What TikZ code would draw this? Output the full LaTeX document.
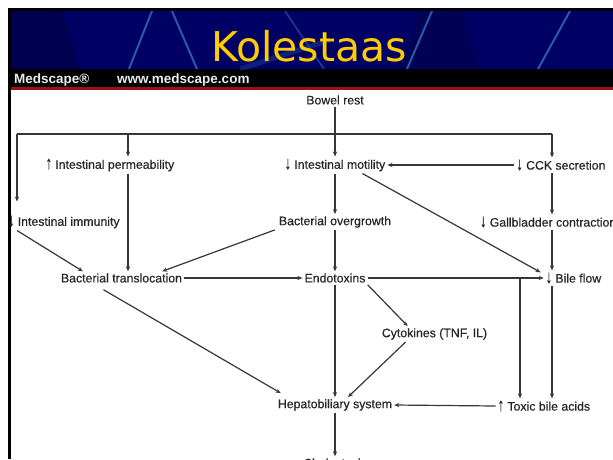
\documentclass[tikz,border=0pt]{standalone}
\usepackage{fontspec}
\usepackage{graphicx}
\setmainfont{Liberation Sans}
\newfontfamily\lblfont[FakeBold=0.4]{Liberation Sans}
\newfontfamily\titlefont{DejaVu Sans}
\usetikzlibrary{arrows.meta}
\newcommand\dnarr{\raisebox{-0.3pt}{\scalebox{1}[1.5]{↓}}}
\newcommand\uparr{\raisebox{-0.3pt}{\scalebox{1}[1.5]{↑}}}
\definecolor{navy}{RGB}{0,0,100}
\definecolor{streak}{RGB}{40,90,170}
\definecolor{titleyellow}{RGB}{255,204,0}
\definecolor{ink}{RGB}{38,38,38}
\definecolor{lineink}{RGB}{55,55,55}
\definecolor{barred}{RGB}{150,20,20}
\tikzset{
  lbl/.style={font=\lblfont\fontsize{12.3}{14}\selectfont, text=ink, inner sep=2pt},
  arr/.style={draw=lineink, line width=1.2pt, -{Stealth[length=5pt,width=4.2pt]}},
  ln/.style={draw=lineink, line width=1.2pt},
}
\begin{document}
\begin{tikzpicture}[x=1pt,y=-1pt]
\useasboundingbox (0,0) rectangle (613,459);
\clip (0,0) rectangle (613,459);
% frame and header
\fill[white] (0,0) rectangle (613,459);
\fill[black] (8,8) rectangle (613,459);
\fill[white] (11,90) rectangle (613,459);
\fill[navy] (11,11) rectangle (613,69);
\fill[navy!80!black] (11,11) -- (62,11) -- (80,69) -- (11,69) -- cycle;
\fill[navy!85!black] (420,11) -- (462,11) -- (478,69) -- (400,69) -- cycle;
\begin{scope}
\clip (11,11) rectangle (613,69);
\draw[streak, line width=2pt] (152,11) -- (129,69);
\draw[streak, line width=2pt] (172,11) -- (197,69);
\draw[streak!70!navy, line width=1.5pt] (285,11) -- (324,69);
\draw[streak, line width=2pt] (432,11) -- (407,69);
\draw[streak, line width=2pt] (570,11) -- (538,69);
\draw[streak!60!navy, line width=5pt, opacity=0.6] (240,69) -- (330,40);
\end{scope}
\node[font=\titlefont\fontsize{41}{44}\selectfont, text=titleyellow, anchor=base, inner sep=0] (title) at (309,61) {Kolestaas};
\fill[barred] (11,87) rectangle (613,90);
\node[font=\bfseries\fontsize{13.5}{15}\selectfont, text=white!92!black, anchor=base west, inner sep=0] (ms) at (14,83) {Medscape®};
\node[font=\bfseries\fontsize{13.5}{15}\selectfont, text=white!92!black, anchor=base west, inner sep=0] (url) at (117,83) {www.medscape.com};
% nodes
\node[lbl] (rest) at (335,100) {Bowel rest};
\node[lbl] (perm) at (110,165) {\uparr\ Intestinal permeability};
\node[lbl] (motil) at (335,165) {\dnarr\ Intestinal motility};
\node[lbl] (cck) at (561,165) {\dnarr\ CCK secretion};
\node[lbl, anchor=west] (immun) at (6,222) {\dnarr\ Intestinal immunity};
\node[lbl] (over) at (335,222) {Bacterial overgrowth};
\node[lbl, anchor=west] (gall) at (478,222) {\dnarr\ Gallbladder contraction};
\node[lbl] (trans) at (121.5,278) {Bacterial translocation};
\node[lbl] (endo) at (335,278) {Endotoxins};
\node[lbl] (bile) at (573.5,278) {\dnarr\ Bile flow};
\node[lbl] (cyto) at (434.5,334) {Cytokines (TNF, IL)};
\node[lbl] (hep) at (335,405) {Hepatobiliary system};
\node[lbl] (toxic) at (544,406) {\uparr\ Toxic bile acids};
\node[lbl] (chol) at (335,463) {Cholestasis};
% coordinates on the trunk
\coordinate (tl) at (17,134);
\coordinate (pd) at (128,134);
\coordinate (tr) at (552,134);
\coordinate (br) at (520,279);
% connectors
\draw[ln] (tl) -- (tr);
\draw[arr] (rest) -- (motil);
\draw[arr] (tl) -- ([yshift=12pt]immun.north -| tl);
\draw[arr] (pd) -- (pd |- perm.north);
\draw[arr] (tr) -- (tr |- cck.north);
\draw[arr] (cck.west) -- (motil.east);
\draw[arr] (cck.south -| tr) -- (tr |- gall.north);
\draw[arr] (gall.south -| tr) -- (tr |- bile.north);
\draw[arr] (bile.south -| tr) -- (tr |- toxic.north);
\draw[arr] ([xshift=-25pt]motil.south east) -- ([xshift=-3pt,yshift=-2pt]bile.north west);
\draw[arr] (motil) -- (over);
\draw[arr] (over) -- (endo);
\draw[arr] (perm.south -| pd) -- (pd |- trans.north);
\draw[arr] ([xshift=11pt]immun.south west) -- ([xshift=24pt]trans.north west);
\draw[arr] ([xshift=-2pt]over.south west) -- ([xshift=-22pt]trans.north east);
\draw[arr] (trans.east) -- (endo.west);
\draw[arr] (endo.east) -- (bile.west);
\draw[arr] (br) -- (br |- toxic.north);
\draw[arr] (endo.south east) -- ([xshift=28pt]cyto.north west);
\draw[arr] ([xshift=-18pt,yshift=-5pt]trans.south) -- ([xshift=5pt,yshift=4pt]hep.north west);
\draw[arr] (endo) -- (hep);
\draw[arr] ([xshift=26pt]cyto.south west) -- ([xshift=13pt]hep.north);
\draw[arr] (toxic.west) -- (hep.east);
\draw[arr] (hep) -- (chol);
\end{tikzpicture}
\end{document}
